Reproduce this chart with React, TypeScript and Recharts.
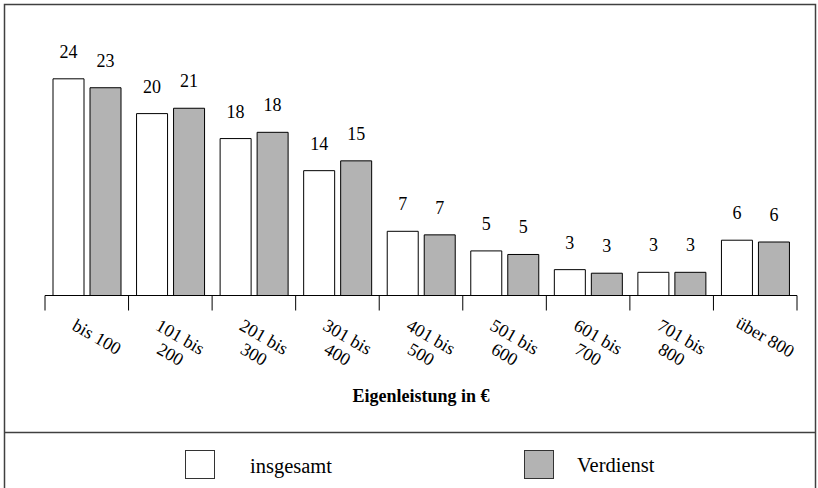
import { BarChart, Bar, XAxis, YAxis, LabelList } from 'recharts';

const categories = [
    'bis 100',
    '101 bis\n200',
    '201 bis\n300',
    '301 bis\n400',
    '401 bis\n500',
    '501 bis\n600',
    '601 bis\n700',
    '701 bis\n800',
    'über 800',
];
// bar heights as measured, printed labels as shown
const insgesamt = [24.3, 20.4, 17.6, 14.0, 7.2, 5.0, 2.9, 2.6, 6.2];
const verdienst = [23.3, 21.0, 18.3, 15.1, 6.8, 4.6, 2.5, 2.6, 6.0];
const insgesamtLabels = [24, 20, 18, 14, 7, 5, 3, 3, 6];
const verdienstLabels = [23, 21, 18, 15, 7, 5, 3, 3, 6];
const seriesNames = ['insgesamt', 'Verdienst'];
const seriesColors = ['#ffffff', '#b3b3b3'];
const axisTitle = 'Eigenleistung in €';

const FONT = 'Liberation Serif, serif';

const data = categories.map((name, i) => ({
    name,
    insgesamt: insgesamt[i],
    verdienst: verdienst[i],
    insgesamtLabel: insgesamtLabels[i],
    verdienstLabel: verdienstLabels[i],
}));

const CategoryTick = ({ x, y, payload, index, visibleTicksCount }: any) => {
    const half = payload?.offset ?? 41.78;
    const lines = String(payload.value).split('\n');
    const last = index === (visibleTicksCount ?? categories.length) - 1;
    return (
        <g>
            <line x1={x - half} y1={y} x2={x - half} y2={y + 15} stroke="#000" strokeWidth={1} />
            {last && <line x1={x + half} y1={y} x2={x + half} y2={y + 15} stroke="#000" strokeWidth={1} />}
            <g transform={`translate(${x + 10},${y + 41.5}) rotate(30)`}>
                <text textAnchor="middle" style={{ fontFamily: FONT }} fontSize={18} fill="#000">
                    {lines.map((l, i) => (
                        <tspan key={i} x={0} dy={i === 0 ? '0.33em' : 20}>{l}</tspan>
                    ))}
                </text>
            </g>
        </g>
    );
};

export default function App() {
    return (
        <div style={{ position: 'absolute', left: 0, top: 0, width: 818, height: 488, background: '#fff', fontFamily: FONT }}>
            <svg width={818} height={488} style={{ position: 'absolute', left: 0, top: 0, fontFamily: FONT }}>
                <rect x={4.5} y={4.5} width={811} height={500} fill="none" stroke="#404040" strokeWidth={1.5} />
                <line x1={4.5} y1={432.5} x2={815.5} y2={432.5} stroke="#404040" strokeWidth={1.5} />
                {/* legend */}
                <rect x={185.5} y={450.5} width={29} height={28} fill={seriesColors[0]} stroke="#333" />
                <text x={250} y={473} style={{ fontFamily: FONT }} fontSize={20.5} fill="#000">{seriesNames[0]}</text>
                <rect x={524.5} y={450.5} width={29} height={28} fill={seriesColors[1]} stroke="#333" />
                <text x={577} y={472} style={{ fontFamily: FONT }} fontSize={20.5} fill="#000">{seriesNames[1]}</text>
            </svg>
            <div style={{ position: 'absolute', left: 0, top: 0 }}>
                <BarChart
                    width={818}
                    height={488}
                    data={data}
                    margin={{ top: 28, right: 21, left: 45, bottom: 86.5 }}
                    barGap={6}
                    style={{ fontFamily: FONT }}
                >
                    <YAxis hide domain={[0, 30]} />
                    <XAxis
                        dataKey="name"
                        height={106}
                        interval={0}
                        tickSize={0}
                        tickMargin={0}
                        tickLine={false}
                        axisLine={{ stroke: '#000', strokeWidth: 1 }}
                        tick={<CategoryTick />}
                        label={{
                            value: axisTitle,
                            position: 'insideBottom',
                            offset: 0,
                            fontFamily: FONT,
                            fontSize: 18,
                            fontWeight: 'bold',
                            fill: '#000',
                        }}
                    />
                    <Bar dataKey="insgesamt" name={seriesNames[0]} fill={seriesColors[0]} stroke="#000" strokeWidth={1} barSize={31} isAnimationActive={false}>
                        <LabelList dataKey="insgesamtLabel" position="top" offset={21} fill="#000" fontFamily={FONT} fontSize={18} />
                    </Bar>
                    <Bar dataKey="verdienst" name={seriesNames[1]} fill={seriesColors[1]} stroke="#000" strokeWidth={1} barSize={31} isAnimationActive={false}>
                        <LabelList dataKey="verdienstLabel" position="top" offset={21} fill="#000" fontFamily={FONT} fontSize={18} />
                    </Bar>
                </BarChart>
            </div>
        </div>
    );
}
